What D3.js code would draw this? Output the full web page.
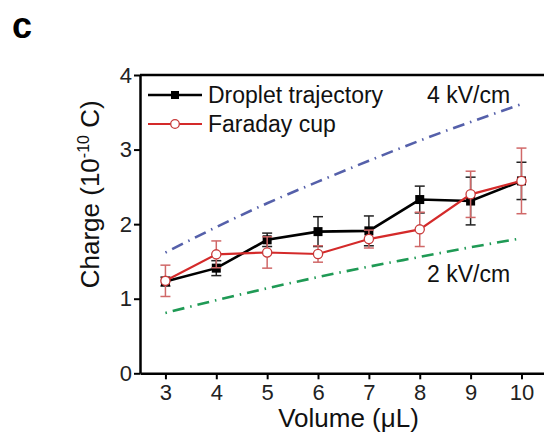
<!DOCTYPE html>
<html><head><meta charset="utf-8">
<script src="https://cdn.jsdelivr.net/npm/d3@7"></script>
<style>
html,body{margin:0;padding:0;background:#fff;}
svg{display:block;font-family:"Liberation Sans",Arial,sans-serif;}
</style></head>
<body>
<script>
const volumes = [3,4,5,6,7,8,9,10];
const dropletCharge = [1.23,1.41,1.79,1.90,1.91,2.33,2.31,2.58];
const dropletErr    = [0.06,0.10,0.09,0.20,0.20,0.18,0.32,0.25];
const faradayCharge = [1.24,1.595,1.62,1.60,1.80,1.93,2.40,2.58];
const faradayErr    = [0.21,0.18,0.21,0.11,0.12,0.23,0.31,0.44];
const field4 = [1.62,1.96,2.28,2.57,2.85,3.12,3.37,3.61];
const field2 = [0.81,0.98,1.14,1.29,1.43,1.56,1.69,1.81];
const xTicks = [3,4,5,6,7,8,9,10];
const yTicks = [0,1,2,3,4];
const legendLabels = ["Droplet trajectory","Faraday cup"];
const fieldLabels = ["4 kV/cm","2 kV/cm"];

const W=544,H=436;
const svg=d3.select("body").append("svg").attr("width",W).attr("height",H);
const x=d3.scaleLinear().domain([2.5,10.5]).range([140,546.9]);
const y=d3.scaleLinear().domain([0,4]).range([373.3,75]);

// panel label
svg.append("text").attr("x",12).attr("y",38).attr("font-size",36).attr("font-weight","bold").text("c");

// axes
const xa=svg.append("g").attr("transform",`translate(0,${y(0)})`)
  .call(d3.axisBottom(x).tickValues(xTicks).tickFormat(d3.format("d")).tickSize(6).tickSizeOuter(0).tickPadding(5));
const ya=svg.append("g").attr("transform",`translate(${x(2.5)},0)`)
  .call(d3.axisLeft(y).tickValues(yTicks).tickFormat(d3.format("d")).tickSize(6).tickSizeOuter(0).tickPadding(2));
[xa,ya].forEach(a=>{
  a.select(".domain").attr("stroke","#000").attr("stroke-width",2.5);
  a.selectAll(".tick line").attr("stroke","#000").attr("stroke-width",2);
  a.selectAll(".tick text").attr("font-size",22).attr("fill","#222").attr("font-family","Liberation Sans,Arial,sans-serif");
});
// top border
svg.append("line").attr("x1",x(2.5)).attr("x2",x(10.5)).attr("y1",y(4)).attr("y2",y(4))
  .attr("stroke","#000").attr("stroke-width",2.5);

// axis titles
svg.append("text").attr("x",x(6.6)).attr("y",427).attr("text-anchor","middle")
  .attr("font-size",26).attr("fill","#111").text("Volume (μL)");
const yl=svg.append("text").attr("transform",`translate(99,${y(2.4)}) rotate(-90)`)
  .attr("text-anchor","middle").attr("font-size",26).attr("fill","#111");
yl.append("tspan").text("Charge (10");
yl.append("tspan").attr("font-size",16).attr("dy",-10).text("-10");
yl.append("tspan").attr("dy",10).text(" C)");

// field lines
const line=d3.line().x((d,i)=>x(volumes[i])).y(d=>y(d)).curve(d3.curveMonotoneX);
svg.append("path").attr("d",line(field4)).attr("fill","none").attr("stroke","#5560aa")
  .attr("stroke-width",2.6).attr("stroke-dasharray","1.5,6,12,6");
svg.append("path").attr("d",line(field2)).attr("fill","none").attr("stroke","#1f9a55")
  .attr("stroke-width",2.6).attr("stroke-dasharray","1.5,6,12,6");
svg.append("text").attr("x",427).attr("y",103).attr("font-size",23).attr("fill","#111").text(fieldLabels[0]);
svg.append("text").attr("x",427).attr("y",282).attr("font-size",23).attr("fill","#111").text(fieldLabels[1]);

const lin=d3.line().x((d,i)=>x(volumes[i])).y(d=>y(d));
function errbars(vals,errs,color,w){
  const g=svg.append("g").attr("stroke",color).attr("stroke-width",w);
  vals.forEach((v,i)=>{
    const cx=x(volumes[i]);
    g.append("line").attr("x1",cx).attr("x2",cx).attr("y1",y(v-errs[i])).attr("y2",y(v+errs[i]));
    [v-errs[i],v+errs[i]].forEach(e=>g.append("line").attr("x1",cx-5).attr("x2",cx+5).attr("y1",y(e)).attr("y2",y(e)));
  });
}
// droplet series
errbars(dropletCharge,dropletErr,"#222",1.5);
svg.append("path").attr("d",lin(dropletCharge)).attr("fill","none").attr("stroke","#000").attr("stroke-width",2.6);
svg.selectAll(".sq").data(dropletCharge).enter().append("rect")
  .attr("x",(d,i)=>x(volumes[i])-4.5).attr("y",d=>y(d)-4.5).attr("width",9).attr("height",9).attr("fill","#000");
// faraday series
errbars(faradayCharge,faradayErr,"#d06868",1.5);
svg.append("path").attr("d",lin(faradayCharge)).attr("fill","none").attr("stroke","#d42a2a").attr("stroke-width",2.2);
svg.selectAll(".ci").data(faradayCharge).enter().append("circle")
  .attr("cx",(d,i)=>x(volumes[i])).attr("cy",d=>y(d)).attr("r",4.6)
  .attr("fill","#fff").attr("stroke","#c83a3a").attr("stroke-width",1.3);

// legend
const lg=svg.append("g");
lg.append("line").attr("x1",148).attr("x2",202).attr("y1",95).attr("y2",95).attr("stroke","#000").attr("stroke-width",2.6);
lg.append("rect").attr("x",171).attr("y",91).attr("width",8).attr("height",8).attr("fill","#000");
lg.append("line").attr("x1",148).attr("x2",202).attr("y1",124).attr("y2",124).attr("stroke","#d42a2a").attr("stroke-width",2.2);
lg.append("circle").attr("cx",175).attr("cy",124).attr("r",4.3).attr("fill","#fff").attr("stroke","#c83a3a").attr("stroke-width",1.3);
lg.append("text").attr("x",208).attr("y",103).attr("font-size",23).attr("fill","#111").text(legendLabels[0]);
lg.append("text").attr("x",208).attr("y",132).attr("font-size",23).attr("fill","#111").text(legendLabels[1]);
</script>
</body></html>
